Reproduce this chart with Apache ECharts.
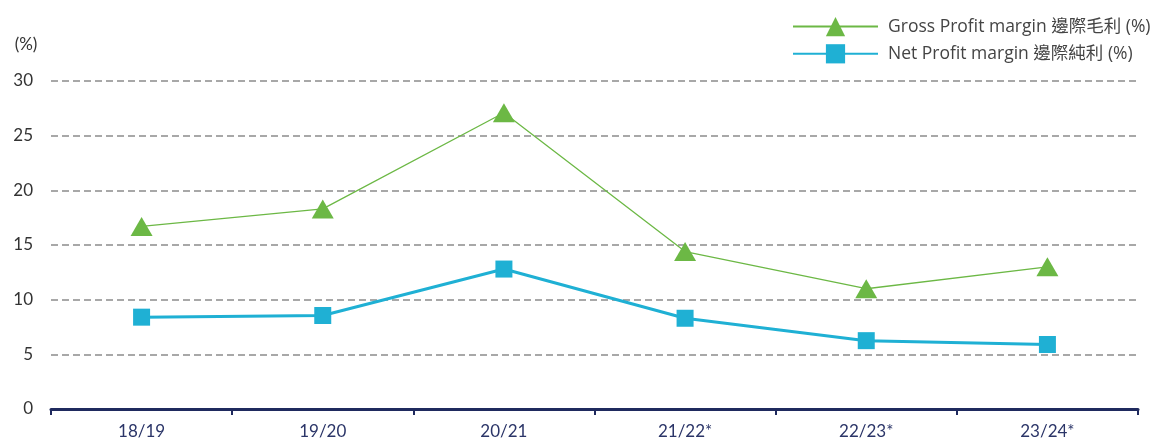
<!DOCTYPE html>
<html><head><meta charset="utf-8">
<script src="https://cdn.jsdelivr.net/npm/echarts@6/dist/echarts.min.js"></script>
<style>html,body{margin:0;padding:0;background:#fff}#c{width:1153px;height:441px}</style>
</head><body><div id="c"></div>
<script>
const categories = ['18/19', '19/20', '20/21', '21/22*', '22/23*', '23/24*'];
const grossMargin = [16.7, 18.3, 27.1, 14.4, 11.0, 13.0];
const netMargin = [8.4, 8.55, 12.8, 8.3, 6.25, 5.9];
const yTicks = [0, 5, 10, 15, 20, 25, 30];
const grossName = 'Gross Profit margin 邊際毛利 (%)';
const netName = 'Net Profit margin 邊際純利 (%)';

const font = 'Lato, "Noto Sans CJK TC", sans-serif';
const legendFont = '"Open Sans", "Noto Sans CJK TC", sans-serif';
const chart = echarts.init(document.getElementById('c'));
chart.setOption({
  animation: false,
  grid: { left: 51, right: 15, top: 81, bottom: 32, containLabel: false },
  legend: {
    orient: 'vertical', left: 787, top: 12,
    itemWidth: 85, itemHeight: 24, itemGap: 8,
    textStyle: { fontFamily: legendFont, fontSize: 17.5, color: '#444', padding: [0, 0, 0, 5] },
    data: [grossName, netName]
  },
  xAxis: {
    type: 'category', data: categories, boundaryGap: true,
    axisLine: { lineStyle: { color: '#1f2a5e', width: 3 } },
    axisTick: { show: true, length: 6, lineStyle: { color: '#1f2a5e', width: 2 } },
    axisLabel: { fontFamily: font, fontSize: 17, color: '#2b3568', margin: 14 }
  },
  yAxis: {
    type: 'value', min: yTicks[0], max: yTicks[yTicks.length - 1], interval: 5,
    name: '(%)', nameLocation: 'end', nameGap: 28,
    nameTextStyle: { fontFamily: font, fontSize: 17, color: '#333', align: 'center', padding: [0, 0, 0, -50] },
    axisLine: { show: false }, axisTick: { show: false },
    axisLabel: { fontFamily: font, fontSize: 17, color: '#333', margin: 18 },
    splitLine: { show: true, lineStyle: { color: '#8c8c8c', width: 1.5, type: [7, 4] } }
  },
  series: [
    {
      name: grossName, type: 'line', data: grossMargin,
      symbol: 'triangle', symbolSize: [22, 19],
      itemStyle: { color: '#6cb845' },
      lineStyle: { color: '#6cb845', width: 1.3 },
      z: 3
    },
    {
      name: netName, type: 'line', data: netMargin,
      symbol: 'rect', symbolSize: 17,
      itemStyle: { color: '#1fb0d4' },
      lineStyle: { color: '#1fb0d4', width: 3 },
      z: 2
    }
  ]
});
</script></body></html>
